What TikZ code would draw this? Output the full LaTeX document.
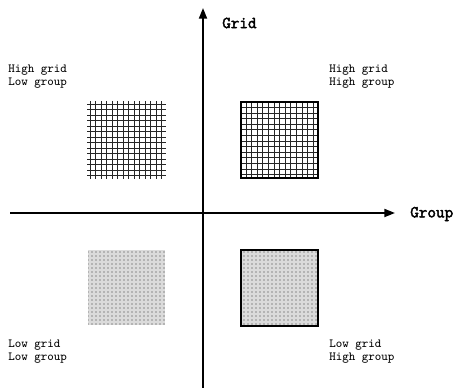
\documentclass[tikz,border=0pt]{standalone}
\usepackage{fontspec}
\newfontfamily\boldtt{Latin Modern Mono}[FakeBold=2.5]
\usetikzlibrary{arrows.meta,patterns}
\begin{document}
\begin{tikzpicture}[x=0.75pt,y=-0.75pt,
  axis/.style={line width=1.4pt,-{Triangle[length=8pt,width=6pt]}},
  axislabel/.style={font=\boldtt\fontsize{12.5}{14}\selectfont,anchor=west,inner sep=0pt},
  quadlabel/.style={font=\ttfamily\fontsize{9.3}{9.75}\selectfont,anchor=west,align=left,inner sep=0pt},
  gridline/.style={line width=0.7pt,black!85},
  dotbase/.style={fill=black!14},
  dotfill/.style={pattern=dots,pattern color=black!80},
  boxborder/.style={draw,line width=1.6pt}]
\useasboundingbox (0,0) rectangle (458,388);
% axes
\coordinate (vb) at (203,388);
\coordinate (vt) at (203,8);
\coordinate (hl) at (10,213);
\coordinate (hr) at (395,213);
\draw[axis] (vb) -- (vt);
\draw[axis] (hl) -- (hr);
\node[axislabel] (gridlbl) at (222,23) {Grid};
\node[axislabel] (grouplbl) at (410,214) {Group};
% quadrant labels
\node[quadlabel] (hglg) at (8,77) {High grid\\Low group};
\node[quadlabel] (hghg) at (329,77) {High grid\\High group};
\node[quadlabel] (lglg) at (8,352) {Low grid\\Low group};
\node[quadlabel] (lghg) at (329,352) {Low grid\\High group};
% top-left grid (no border)
\foreach \i in {0,...,13} {
  \draw[gridline] (90+5.5*\i,101) -- (90+5.5*\i,179);
  \draw[gridline] (87,104+5.5*\i) -- (166,104+5.5*\i);
}
% top-right grid with border
\foreach \i in {0,...,12} {
  \draw[gridline] (246+5.6*\i,102) -- (246+5.6*\i,178);
  \draw[gridline] (241,107.5+5.6*\i) -- (318,107.5+5.6*\i);
}
\node[boxborder,minimum width=77*0.75pt,minimum height=76*0.75pt,inner sep=0pt] (hgbox) at (279.5,140) {};
% bottom dotted squares
\fill[dotbase] (88,250) rectangle (165,325);
\fill[dotfill] (88,250) rectangle (165,325);
\fill[dotbase] (241,250) rectangle (318,326);
\node[boxborder,dotfill,minimum width=77*0.75pt,minimum height=76*0.75pt,inner sep=0pt] (lgbox) at (279.5,288) {};
\end{tikzpicture}
\end{document}
